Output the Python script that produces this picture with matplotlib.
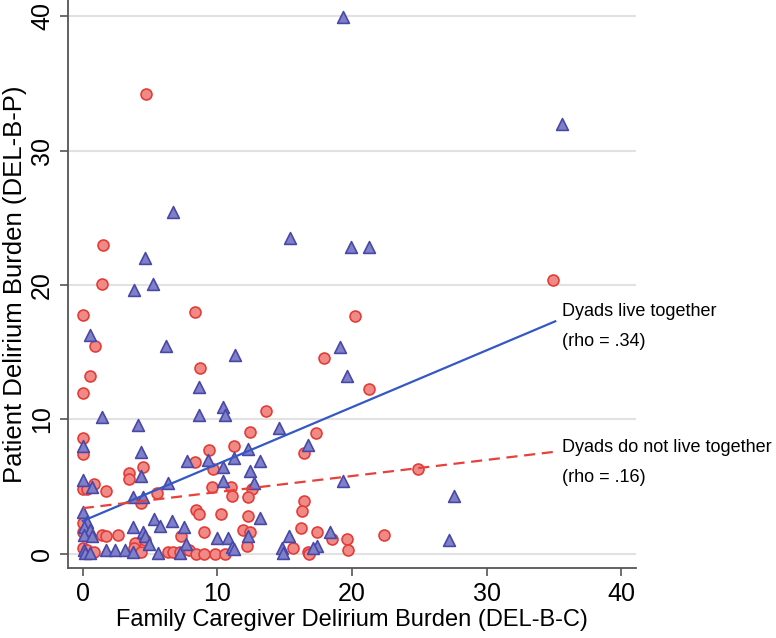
import matplotlib
matplotlib.use("Agg")
import matplotlib.pyplot as plt

plt.rcParams["font.family"] = ["Liberation Sans", "DejaVu Sans"]

# dyads living together (triangles)
live_x = [19.3, 35.6, 6.7, 15.4, 19.9, 21.3, 4.6, 5.2, 3.8, 0.55, 6.2, 11.3, 19.1, 19.6,
          8.6, 10.4, 10.6, 8.6, 1.45, 4.1, 14.6, 16.7, 0.0, 4.35, 12.3, 9.3, 7.75, 11.2,
          13.2, 10.4, 12.4, 4.3, 0.0, 0.7, 6.3, 10.4, 12.7, 19.3, 27.6, 3.75, 4.5, 0.0,
          13.2, 0.35, 0.1, 0.5, 5.3, 5.7, 6.6, 7.5, 3.75, 4.5, 0.1, 0.7, 4.6, 12.3, 10.0,
          10.8, 15.3, 18.4, 27.2, 7.7, 4.9, 11.1, 14.8, 14.9, 17.4, 17.1, 0.1, 0.2, 0.55,
          1.7, 2.4, 3.15, 3.7, 5.6, 7.2, 11.2]
live_y = [39.9, 32.0, 25.4, 23.5, 22.8, 22.8, 22.0, 20.1, 19.6, 16.3, 15.5, 14.8, 15.4, 13.2,
          12.4, 10.9, 10.3, 10.3, 10.2, 9.6, 9.4, 8.1, 8.0, 7.6, 7.8, 7.0, 6.9, 7.1,
          6.9, 6.5, 6.2, 5.8, 5.5, 5.0, 5.3, 5.4, 5.3, 5.4, 4.3, 4.2, 4.2, 3.1,
          2.7, 2.4, 2.0, 1.8, 2.6, 2.1, 2.45, 2.0, 2.0, 1.6, 1.4, 1.3, 1.3, 1.3, 1.2,
          1.2, 1.3, 1.6, 1.0, 0.7, 0.7, 0.5, 0.45, 0.1, 0.6, 0.45, 0.3, 0.1, 0.1,
          0.3, 0.3, 0.3, 0.15, 0.1, 0.1, 0.4]

# dyads not living together (circles)
apart_x = [4.7, 34.9, 1.5, 1.4, 0.0, 8.3, 20.2, 0.9, 17.9, 0.55, 0.0, 8.7, 21.3, 13.6,
           12.4, 17.3, 0.0, 0.0, 9.4, 11.2, 16.4, 4.5, 3.45, 3.4, 8.35, 9.7, 24.9, 0.85,
           0.0, 0.35, 1.75, 5.55, 9.6, 11.0, 12.6, 11.1, 12.3, 4.35, 16.4, 16.3, 8.4, 8.6,
           10.3, 12.3, 0.0, 0.0, 1.4, 1.7, 2.6, 7.3, 9.0, 11.9, 12.4, 16.2, 17.4, 18.5,
           19.6, 22.4, 3.9, 4.6, 12.2, 15.6, 19.7, 16.7, 16.8, 0.0, 0.35, 0.85, 3.8, 4.3,
           6.3, 6.7, 7.25, 7.9, 8.4, 9.0, 9.8, 10.6]
apart_y = [34.2, 20.4, 23.0, 20.1, 17.8, 18.0, 17.7, 15.5, 14.6, 13.2, 12.0, 13.8, 12.3, 10.6,
           9.1, 9.0, 8.6, 7.4, 7.7, 8.0, 7.5, 6.5, 6.0, 5.6, 6.8, 6.3, 6.3, 5.2,
           4.8, 4.8, 4.7, 4.5, 5.0, 5.0, 4.8, 4.3, 4.2, 3.8, 3.9, 3.2, 3.3, 3.0,
           3.0, 2.8, 2.3, 1.6, 1.4, 1.3, 1.4, 1.3, 1.6, 1.8, 1.6, 1.9, 1.6, 1.1,
           1.1, 1.4, 0.8, 1.0, 0.6, 0.45, 0.3, 0.15, 0.0, 0.45, 0.3, 0.15, 0.45, 0.15,
           0.15, 0.15, 0.15, 0.3, 0.0, 0.0, 0.0, 0.0]

# fitted lines (end points)
live_fit_x = [0.0, 35.1]
live_fit_y = [2.45, 17.3]
apart_fit_x = [0.0, 35.1]
apart_fit_y = [3.4, 7.6]

ticks = [0, 10, 20, 30, 40]

fig = plt.figure(figsize=(7.76, 6.38), dpi=100)
ax = fig.add_axes([0.0876, 0.1097, 0.732, 0.8903])

ax.scatter(apart_x, apart_y, s=62, marker="o", facecolor="#f08a86", edgecolor="#e43c38",
           linewidth=1.2, zorder=3)
ax.scatter(live_x, live_y, s=72, marker="^", facecolor="#8080c8", edgecolor="#4848a8",
           linewidth=1.2, zorder=3)

ax.plot(live_fit_x, live_fit_y, color="#3458c4", lw=1.6, zorder=4)
ax.plot(apart_fit_x, apart_fit_y, color="#e8403a", lw=1.6, ls=(0, (5, 3)), zorder=4)

txt = dict(fontsize=13, va="center", ha="left")
ax.text(35.6, 18.0, "Dyads live together", **txt)
ax.text(35.6, 15.8, "(rho = .34)", **txt)
ax.text(35.6, 7.9, "Dyads do not live together", **txt)
ax.text(35.6, 5.7, "(rho = .16)", **txt)

ax.set_xlim(-1.1, 41.1)
ax.set_ylim(-1.05, 41.2)
ax.set_xticks(ticks)
ax.set_yticks(ticks)
ax.set_yticklabels([str(t) for t in ticks], rotation=90, va="center")
ax.tick_params(axis="both", labelsize=18, length=6, width=1.2, color="#555555", pad=4)
ax.grid(axis="y", color="#e2e2e2", lw=1.5)
ax.set_axisbelow(True)

for side in ["top", "right"]:
    ax.spines[side].set_visible(False)
for side in ["left", "bottom"]:
    ax.spines[side].set_color("#555555")
    ax.spines[side].set_linewidth(1.3)

ax.set_xlabel("Family Caregiver Delirium Burden (DEL-B-C)", fontsize=17, labelpad=2)
ax.set_ylabel("Patient Delirium Burden (DEL-B-P)", fontsize=18.5, labelpad=2)

fig.savefig("out.png", dpi=100)
